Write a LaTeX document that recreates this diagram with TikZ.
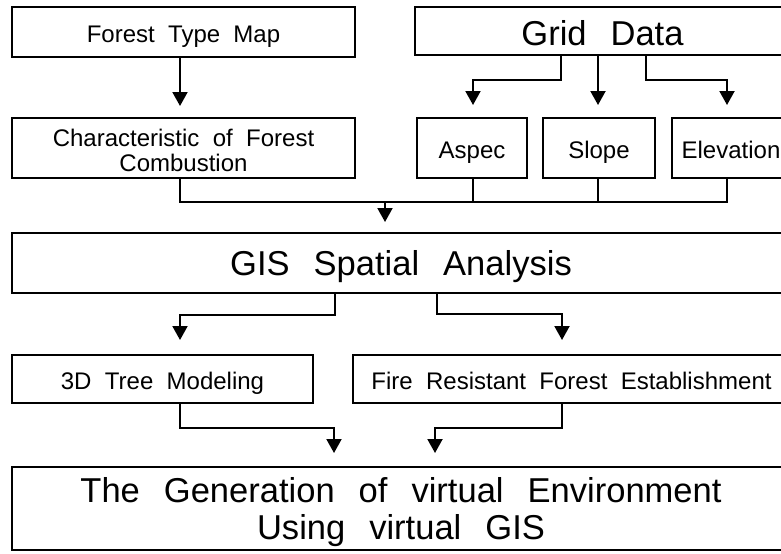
\documentclass[tikz,border=0pt]{standalone}
\usepackage{fontspec}
\setmainfont{Liberation Sans}
\usetikzlibrary{arrows.meta}
% text sizes with fixed word spaces
\newcommand\smallsz{\fontsize{18pt}{18.75pt}\selectfont\spaceskip 10pt\relax}
\newcommand\bigsz{\fontsize{25.9pt}{27.75pt}\selectfont\spaceskip 18pt\relax}
\begin{document}
\begin{tikzpicture}[x=0.75pt, y=-0.75pt,
  box/.style={draw, line width=1.5pt, inner sep=0pt},
  sz/.style 2 args={minimum width=#1*0.75pt, minimum height=#2*0.75pt},
  small/.style={font=\smallsz, text height=15pt, text depth=0pt},
  big/.style={font=\bigsz, text depth=0pt},
  lines/.style={inner sep=0pt, align=center},
  link/.style={line width=1.5pt},
  arr/.style={link, -{Triangle[width=11.25pt,length=10.5pt]}}]
\useasboundingbox (0,0) rectangle (781,553);
\clip (0,0) rectangle (781,553);

% boxes
\node[box,small,sz={343}{50}] (ftm) at (183.5,32) {Forest Type Map};
\node[box,sz={343}{60}] (cfc) at (183.5,148) {};
\node[lines,font=\smallsz] (cfctext) at (183.5,150.5) {Characteristic of Forest\\Combustion};
\node[box,big,text height=21pt,sz={375}{48}] (grid) at (602.5,31) {Grid Data};
\node[box,small,sz={110}{60}] (asp) at (472,148) {Aspec};
\node[box,small,sz={112}{60}] (slo) at (599,148) {Slope};
\node[box,small,sz={118}{60}] (ele) at (731,148) {Elevation};
\node[box,big,text height=18pt,sz={778}{60}] (gis) at (401,263) {GIS Spatial Analysis};
\node[box,small,sz={301}{48}] (tree) at (162.5,379) {3D Tree Modeling};
\node[box,small,sz={437}{48}] (fire) at (571.5,379) {Fire Resistant Forest Establishment};
\node[box,sz={778}{83}] (gen) at (401,508.5) {};
\node[lines,font=\bigsz] (gentext) at (401,512.5) {The Generation of virtual Environment\\Using virtual GIS};

% forest type map to combustion
\coordinate (t1) at (180,106);
\draw[arr] (ftm.south -| t1) -- (t1);

% grid data to its three layers
\coordinate (gA) at (561,80);
\coordinate (gC) at (646,80);
\coordinate (ga) at (473,105);
\coordinate (gb) at (598,105);
\coordinate (gc) at (727,105);
\draw[arr] (grid.south -| gA) -- (gA) -| (ga);
\draw[arr] (grid.south -| gb) -- (gb);
\draw[arr] (grid.south -| gC) -- (gC) -| (gc);

% inputs merged into the spatial analysis
\coordinate (mL) at (180,202);
\coordinate (mR) at (727,202);
\coordinate (mT) at (385,222);
\draw[link] (cfc.south -| mL) -- (mL) -- (mR) -- (ele.south -| mR);
\draw[link] (asp.south -| ga) -- (ga |- mL);
\draw[link] (slo.south -| gb) -- (gb |- mL);
\draw[arr] (mT |- mL) -- (mT);

% spatial analysis outputs
\coordinate (sA) at (335,315);
\coordinate (sB) at (180,340);
\coordinate (sC) at (437,314);
\coordinate (sD) at (562,340);
\draw[arr] (gis.south -| sA) -- (sA) -| (sB);
\draw[arr] (gis.south -| sC) -- (sC) -| (sD);

% results into the virtual environment
\coordinate (bA) at (180,428);
\coordinate (bB) at (334,453);
\coordinate (bC) at (562,428);
\coordinate (bD) at (435,453);
\draw[arr] (tree.south -| bA) -- (bA) -| (bB);
\draw[arr] (fire.south -| bC) -- (bC) -| (bD);
\end{tikzpicture}
\end{document}
